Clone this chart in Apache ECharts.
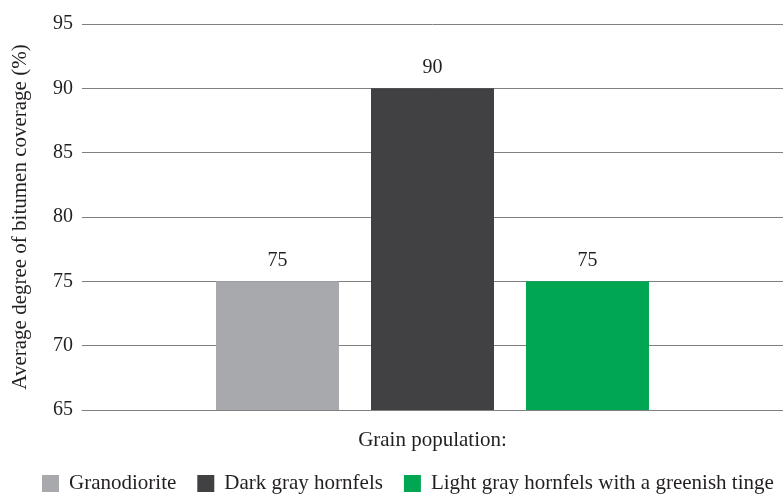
<!DOCTYPE html>
<html><head><meta charset="utf-8">
<script src="https://cdn.jsdelivr.net/npm/echarts@6/dist/echarts.min.js"></script>
<style>html,body{margin:0;padding:0;background:#fff}#c{width:783px;height:495px}</style>
</head><body><div id="c"></div>
<script>
const categories = [''];
const seriesNames = ['Granodiorite', 'Dark gray hornfels', 'Light gray hornfels with a greenish tinge'];
const seriesValues = [[75], [90], [75]];
const seriesColors = ['#a7a9ac', '#414042', '#00a651'];
const yTicks = [65, 70, 75, 80, 85, 90, 95];

const font = '"Liberation Serif", "Times New Roman", serif';
const txt = '#231f20';
const chart = echarts.init(document.getElementById('c'));
chart.setOption({
  animation: false,
  textStyle: {fontFamily: font},
  grid: {left: 82, right: 0, top: 24, bottom: 85},
  legend: {
    left: 42, top: 473, itemWidth: 17, itemHeight: 17, itemGap: 21,
    icon: 'rect', padding: 0,
    textStyle: {fontFamily: font, fontSize: 21, color: txt, padding: [0, 0, 0, 5]},
    data: seriesNames
  },
  xAxis: {
    type: 'category', data: categories,
    name: 'Grain population:', nameLocation: 'middle', nameGap: 20,
    nameTextStyle: {fontFamily: font, fontSize: 21, color: txt},
    axisLine: {show: true, lineStyle: {color: '#808080', width: 1}},
    axisTick: {show: false}, axisLabel: {show: false}
  },
  yAxis: {
    type: 'value', min: yTicks[0], max: yTicks[yTicks.length - 1], interval: 5,
    name: 'Average degree of bitumen coverage (%)', nameLocation: 'middle', nameGap: 51,
    nameTextStyle: {fontFamily: font, fontSize: 21, color: txt},
    axisLine: {show: false}, axisTick: {show: false},
    axisLabel: {fontFamily: font, fontSize: 20, color: txt, margin: 9},
    splitLine: {lineStyle: {color: '#808080', width: 1}}
  },
  series: seriesNames.map((n, i) => ({
    name: n, type: 'bar', data: seriesValues[i], barWidth: 123, barGap: '26%',
    itemStyle: {color: seriesColors[i]},
    label: {show: true, position: 'top', distance: 11, fontFamily: font, fontSize: 20, color: txt}
  }))
});
</script></body></html>
